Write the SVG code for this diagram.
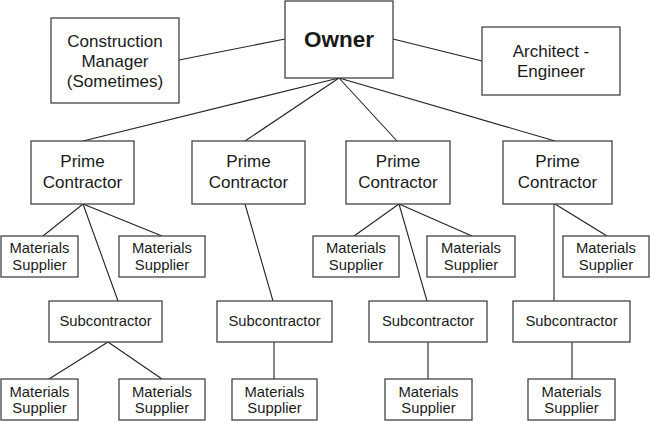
<svg xmlns="http://www.w3.org/2000/svg" width="650" height="422" viewBox="0 0 650 422">
<style>
rect{fill:#fff;stroke:#444;stroke-width:1.3}
text{font-family:"Liberation Sans",Arial,sans-serif;fill:#1a1a1a;text-anchor:middle}
.l{font-size:17px}
.s{font-size:14.8px}
.o{font-size:22.5px;font-weight:bold}
#connectors line{stroke:#222;stroke-width:1.1}
</style>
<rect x="0" y="0" width="650" height="422" style="fill:#fff;stroke:none"/>
<g id="connectors">
<line x1="179" y1="60" x2="285" y2="39"/>
<line x1="393" y1="39" x2="482" y2="61"/>
<line x1="339" y1="78" x2="83" y2="141"/>
<line x1="339" y1="78" x2="245" y2="141"/>
<line x1="339" y1="78" x2="397" y2="141"/>
<line x1="339" y1="78" x2="555" y2="141"/>
<line x1="83" y1="204" x2="43" y2="236"/>
<line x1="83" y1="204" x2="162" y2="236"/>
<line x1="83" y1="204" x2="118" y2="301"/>
<line x1="108" y1="342" x2="49" y2="379"/>
<line x1="108" y1="342" x2="162" y2="379"/>
<line x1="245" y1="204" x2="273" y2="301"/>
<line x1="274" y1="342" x2="274" y2="379"/>
<line x1="399" y1="204" x2="354" y2="236"/>
<line x1="399" y1="204" x2="472" y2="236"/>
<line x1="399" y1="204" x2="427" y2="301"/>
<line x1="428" y1="342" x2="428" y2="379"/>
<line x1="554" y1="204" x2="554" y2="301"/>
<line x1="555" y1="204" x2="607" y2="236"/>
<line x1="572" y1="342" x2="572" y2="379"/>
</g>
<g id="owner"><rect x="285" y="1" width="108" height="77"/><text class="o" x="339" y="47">Owner</text></g>
<g id="cm"><rect x="51" y="18" width="128" height="85"/><text class="l" x="115" y="47">Construction</text><text class="l" x="115" y="67">Manager</text><text class="l" x="115" y="87">(Sometimes)</text></g>
<g id="ae"><rect x="482" y="27" width="138" height="68"/><text class="l" x="551" y="57">Architect -</text><text class="l" x="551" y="77">Engineer</text></g>
<g id="prime1"><rect x="31" y="141" width="103" height="63"/><text class="l" x="82.5" y="167">Prime</text><text class="l" x="82.5" y="188">Contractor</text></g>
<g id="prime2"><rect x="192" y="141" width="113" height="63"/><text class="l" x="248.5" y="167">Prime</text><text class="l" x="248.5" y="188">Contractor</text></g>
<g id="prime3"><rect x="346" y="141" width="104" height="63"/><text class="l" x="398" y="167">Prime</text><text class="l" x="398" y="188">Contractor</text></g>
<g id="prime4"><rect x="503" y="141" width="109" height="63"/><text class="l" x="557.5" y="167">Prime</text><text class="l" x="557.5" y="188">Contractor</text></g>
<g id="ms1"><rect x="1" y="236" width="77" height="41"/><text class="s" x="39.5" y="253">Materials</text><text class="s" x="39.5" y="270">Supplier</text></g>
<g id="ms2"><rect x="119" y="236" width="86" height="41"/><text class="s" x="162" y="253">Materials</text><text class="s" x="162" y="270">Supplier</text></g>
<g id="ms3"><rect x="313" y="236" width="86" height="41"/><text class="s" x="356" y="253">Materials</text><text class="s" x="356" y="270">Supplier</text></g>
<g id="ms4"><rect x="427" y="236" width="88" height="41"/><text class="s" x="471" y="253">Materials</text><text class="s" x="471" y="270">Supplier</text></g>
<g id="ms5"><rect x="563" y="236" width="86" height="41"/><text class="s" x="606" y="253">Materials</text><text class="s" x="606" y="270">Supplier</text></g>
<g id="sub1"><rect x="49" y="301" width="113" height="41"/><text class="s" x="105.5" y="326">Subcontractor</text></g>
<g id="sub2"><rect x="217" y="301" width="115" height="41"/><text class="s" x="274.5" y="326">Subcontractor</text></g>
<g id="sub3"><rect x="369" y="301" width="118" height="41"/><text class="s" x="428" y="326">Subcontractor</text></g>
<g id="sub4"><rect x="513" y="301" width="117" height="41"/><text class="s" x="571.5" y="326">Subcontractor</text></g>
<g id="ms6"><rect x="1" y="379" width="77" height="41"/><text class="s" x="39.5" y="397">Materials</text><text class="s" x="39.5" y="413">Supplier</text></g>
<g id="ms7"><rect x="119" y="379" width="86" height="41"/><text class="s" x="162" y="397">Materials</text><text class="s" x="162" y="413">Supplier</text></g>
<g id="ms8"><rect x="232" y="379" width="85" height="41"/><text class="s" x="274.5" y="397">Materials</text><text class="s" x="274.5" y="413">Supplier</text></g>
<g id="ms9"><rect x="385" y="379" width="87" height="41"/><text class="s" x="428.5" y="397">Materials</text><text class="s" x="428.5" y="413">Supplier</text></g>
<g id="ms10"><rect x="528" y="379" width="87" height="41"/><text class="s" x="571.5" y="397">Materials</text><text class="s" x="571.5" y="413">Supplier</text></g>
</svg>
